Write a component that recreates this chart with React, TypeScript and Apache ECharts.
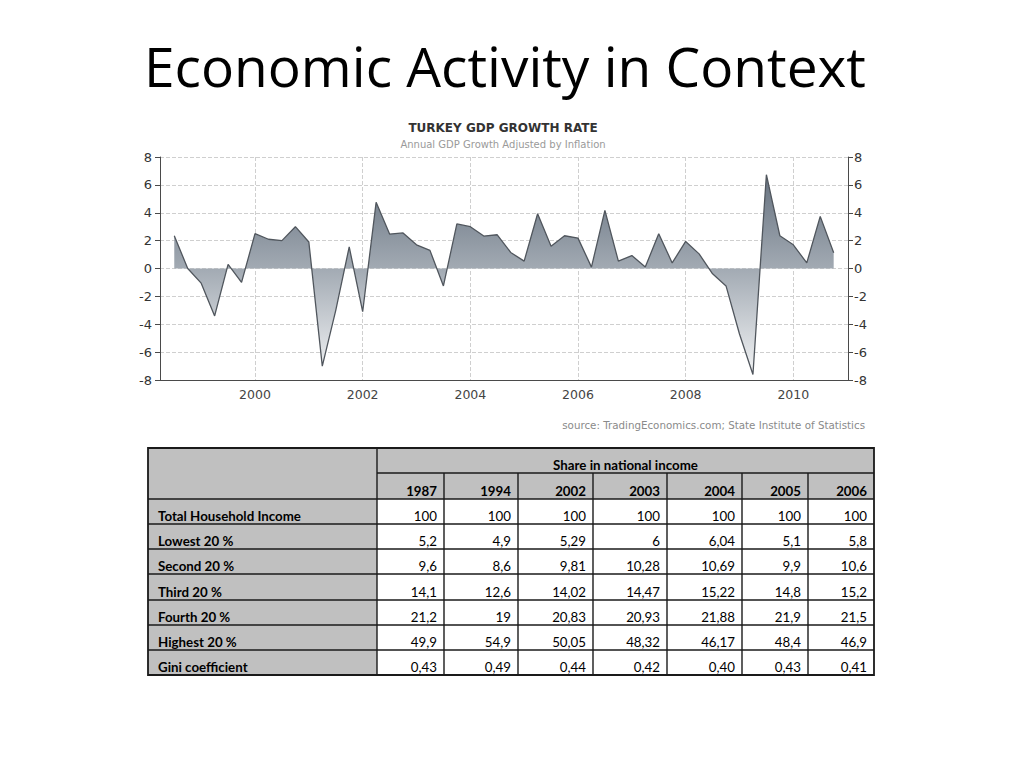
import React, { useEffect, useRef } from "react";
import * as echarts from "echarts";

// ---- GDP growth data (quarterly, % annual growth) ----
const quarters = [
  "1998Q3", "1998Q4",
  "1999Q1", "1999Q2", "1999Q3", "1999Q4",
  "2000Q1", "2000Q2", "2000Q3", "2000Q4",
  "2001Q1", "2001Q2", "2001Q3", "2001Q4",
  "2002Q1", "2002Q2", "2002Q3", "2002Q4",
  "2003Q1", "2003Q2", "2003Q3", "2003Q4",
  "2004Q1", "2004Q2", "2004Q3", "2004Q4",
  "2005Q1", "2005Q2", "2005Q3", "2005Q4",
  "2006Q1", "2006Q2", "2006Q3", "2006Q4",
  "2007Q1", "2007Q2", "2007Q3", "2007Q4",
  "2008Q1", "2008Q2", "2008Q3", "2008Q4",
  "2009Q1", "2009Q2", "2009Q3", "2009Q4",
  "2010Q1", "2010Q2", "2010Q3", "2010Q4",
];
const growth = [
  2.35, 0.0,
  -1.05, -3.4, 0.3, -1.0,
  2.5, 2.1, 2.0, 3.0,
  1.9, -7.0, -3.0, 1.55,
  -3.1, 4.75, 2.47, 2.55,
  1.7, 1.3, -1.25, 3.2,
  3.0, 2.33, 2.42, 1.15,
  0.53, 3.93, 1.6, 2.35,
  2.18, 0.1, 4.17, 0.53,
  0.93, 0.1, 2.5, 0.4,
  1.94, 1.05, -0.38, -1.25,
  -4.7, -7.6, 6.73, 2.35,
  1.7, 0.4, 3.74, 1.13,
];
const xTickYears = [2000, 2002, 2004, 2006, 2008, 2010];

// ---- Income distribution table ----
const tableHeader = "Share in national income";
const tableYears = ["1987", "1994", "2002", "2003", "2004", "2005", "2006"];
const rowLabels = [
  "Total Household Income",
  "Lowest 20 %",
  "Second 20 %",
  "Third 20 %",
  "Fourth 20 %",
  "Highest 20 %",
  "Gini coefficient",
];
const totalRow = ["100", "100", "100", "100", "100", "100", "100"];
const lowestRow = ["5,2", "4,9", "5,29", "6", "6,04", "5,1", "5,8"];
const secondRow = ["9,6", "8,6", "9,81", "10,28", "10,69", "9,9", "10,6"];
const thirdRow = ["14,1", "12,6", "14,02", "14,47", "15,22", "14,8", "15,2"];
const fourthRow = ["21,2", "19", "20,83", "20,93", "21,88", "21,9", "21,5"];
const highestRow = ["49,9", "54,9", "50,05", "48,32", "46,17", "48,4", "46,9"];
const giniRow = ["0,43", "0,49", "0,44", "0,42", "0,40", "0,43", "0,41"];
const tableRows = [totalRow, lowestRow, secondRow, thirdRow, fourthRow, highestRow, giniRow];

const toYear = (q: string) => {
  const [y, qq] = q.split("Q");
  return Number(y) + (Number(qq) - 1) * 0.25;
};

function buildTable(): any[] {
  const colX = [148, 377, 444, 518, 593, 667, 742, 808, 874];
  const rowY = [448, 473, 499, 524, 549, 574, 600, 625, 650, 675];
  const left = colX[0];
  const right = colX[colX.length - 1];
  const top = rowY[0];
  const bottom = rowY[rowY.length - 1];
  const gray = "#c0c0c0";
  const lineColor = "#1a1a1a";
  const lw = 1.4;
  const font = "Lato";
  const fs = 13.3;
  const els: any[] = [];
  // backgrounds
  els.push({ type: "rect", shape: { x: left, y: top, width: right - left, height: bottom - top }, style: { fill: "#ffffff" } });
  els.push({ type: "rect", shape: { x: left, y: top, width: colX[1] - left, height: bottom - top }, style: { fill: gray } });
  els.push({ type: "rect", shape: { x: colX[1], y: top, width: right - colX[1], height: rowY[2] - top }, style: { fill: gray } });
  // lines
  const hline = (y: number, x1: number, x2: number) =>
    els.push({ type: "line", shape: { x1, y1: y, x2, y2: y }, style: { stroke: lineColor, lineWidth: lw } });
  const vline = (x: number, y1: number, y2: number) =>
    els.push({ type: "line", shape: { x1: x, y1, x2: x, y2 }, style: { stroke: lineColor, lineWidth: lw } });
  hline(rowY[1], colX[1], right);
  for (let i = 2; i < rowY.length - 1; i++) hline(rowY[i], left, right);
  vline(colX[1], top, bottom);
  for (let j = 2; j < colX.length - 1; j++) vline(colX[j], rowY[1], bottom);
  els.push({
    type: "rect",
    shape: { x: left, y: top, width: right - left, height: bottom - top },
    style: { fill: "none", stroke: lineColor, lineWidth: 1.8 },
  });
  // header texts
  els.push({
    type: "text",
    x: (colX[1] + right) / 2,
    y: rowY[1] - 8,
    style: { text: tableHeader, font: `bold ${fs}px ${font}`, fill: "#000", align: "center", verticalAlign: "middle" },
  });
  tableYears.forEach((yr, j) => {
    els.push({
      type: "text",
      x: colX[j + 2] - 7,
      y: rowY[2] - 8,
      style: { text: yr, font: `bold ${fs}px ${font}`, fill: "#000", align: "right", verticalAlign: "middle" },
    });
  });
  rowLabels.forEach((lab, i) => {
    const yb = rowY[i + 3] - 8;
    els.push({
      type: "text",
      x: left + 10,
      y: yb,
      style: { text: lab, font: `bold ${fs}px ${font}`, fill: "#000", align: "left", verticalAlign: "middle" },
    });
    tableRows[i].forEach((v, j) => {
      els.push({
        type: "text",
        x: colX[j + 2] - 7,
        y: yb,
        style: { text: v, font: `${fs}px ${font}`, fill: "#000", align: "right", verticalAlign: "middle" },
      });
    });
  });
  return els;
}

export default function App() {
  const ref = useRef<HTMLDivElement>(null);
  useEffect(() => {
    if (!ref.current) return;
    const chart = echarts.init(ref.current, undefined, { renderer: "svg" });
    const data = quarters.map((q, i) => [toYear(q), growth[i]]);
    const axisColor = "#4a4a4a";
    const option: any = {
      animation: false,
      backgroundColor: "#ffffff",
      grid: { left: 160, right: 176, top: 157, bottom: 388, containLabel: false },
      xAxis: {
        type: "value",
        min: 1998.235,
        max: 2011.016,
        axisLine: { show: true, onZero: false, lineStyle: { color: axisColor, width: 1 } },
        axisTick: { show: false, customValues: xTickYears },
        axisLabel: {
          customValues: xTickYears,
          color: "#444",
          fontSize: 12.5,
          fontFamily: "DejaVu Sans",
          margin: 8,
          formatter: (v: number) => String(v),
        },
        splitLine: { show: true, lineStyle: { color: "#cfcfcf", type: "dashed", width: 1 } },
      },
      yAxis: [
        {
          type: "value",
          min: -8,
          max: 8,
          interval: 2,
          position: "left",
          axisLine: { show: true, lineStyle: { color: axisColor, width: 1 } },
          axisTick: { show: true, length: 5, lineStyle: { color: axisColor } },
          axisLabel: { color: "#333", fontSize: 13, fontFamily: "DejaVu Sans", margin: 8 },
          splitLine: { show: true, lineStyle: { color: "#cfcfcf", type: "dashed", width: 1 } },
        },
        {
          type: "value",
          min: -8,
          max: 8,
          interval: 2,
          position: "right",
          axisLine: { show: true, lineStyle: { color: axisColor, width: 1 } },
          axisTick: { show: true, length: 5, lineStyle: { color: axisColor } },
          axisLabel: { color: "#333", fontSize: 13, fontFamily: "DejaVu Sans", margin: 6 },
          splitLine: { show: false },
        },
      ],
      series: [
        {
          type: "line",
          data,
          symbol: "none",
          lineStyle: { color: "#50565d", width: 1.3 },
          areaStyle: {
            color: new echarts.graphic.LinearGradient(
              0, 157, 0, 380,
              [
                { offset: 0, color: "#5c6876" },
                { offset: 0.5, color: "#a2aab3" },
                { offset: 1, color: "#f6f7f8" },
              ],
              true
            ),
            opacity: 1,
          },
        },
      ],
      graphic: [
        {
          type: "text",
          x: 505,
          y: 65,
          style: {
            text: "Economic Activity in Context",
            font: "55px 'Open Sans'",
            fill: "#000",
            align: "center",
            verticalAlign: "middle",
          },
        },
        {
          type: "text",
          x: 503,
          y: 128,
          style: {
            text: "TURKEY GDP GROWTH RATE",
            font: "bold 12px 'DejaVu Sans'",
            fill: "#333",
            align: "center",
            verticalAlign: "middle",
          },
        },
        {
          type: "text",
          x: 503,
          y: 144,
          style: {
            text: "Annual GDP Growth Adjusted by Inflation",
            font: "10px 'DejaVu Sans'",
            fill: "#9a9a9a",
            align: "center",
            verticalAlign: "middle",
          },
        },
        {
          type: "text",
          x: 865,
          y: 425,
          style: {
            text: "source: TradingEconomics.com; State Institute of Statistics",
            font: "10.3px 'DejaVu Sans'",
            fill: "#8a8a8a",
            align: "right",
            verticalAlign: "middle",
          },
        },
        ...buildTable(),
      ],
    };
    chart.setOption(option);
    return () => chart.dispose();
  }, []);
  return (
    <div
      ref={ref}
      style={{ position: "absolute", left: 0, top: 0, width: 1024, height: 768 }}
    />
  );
}
